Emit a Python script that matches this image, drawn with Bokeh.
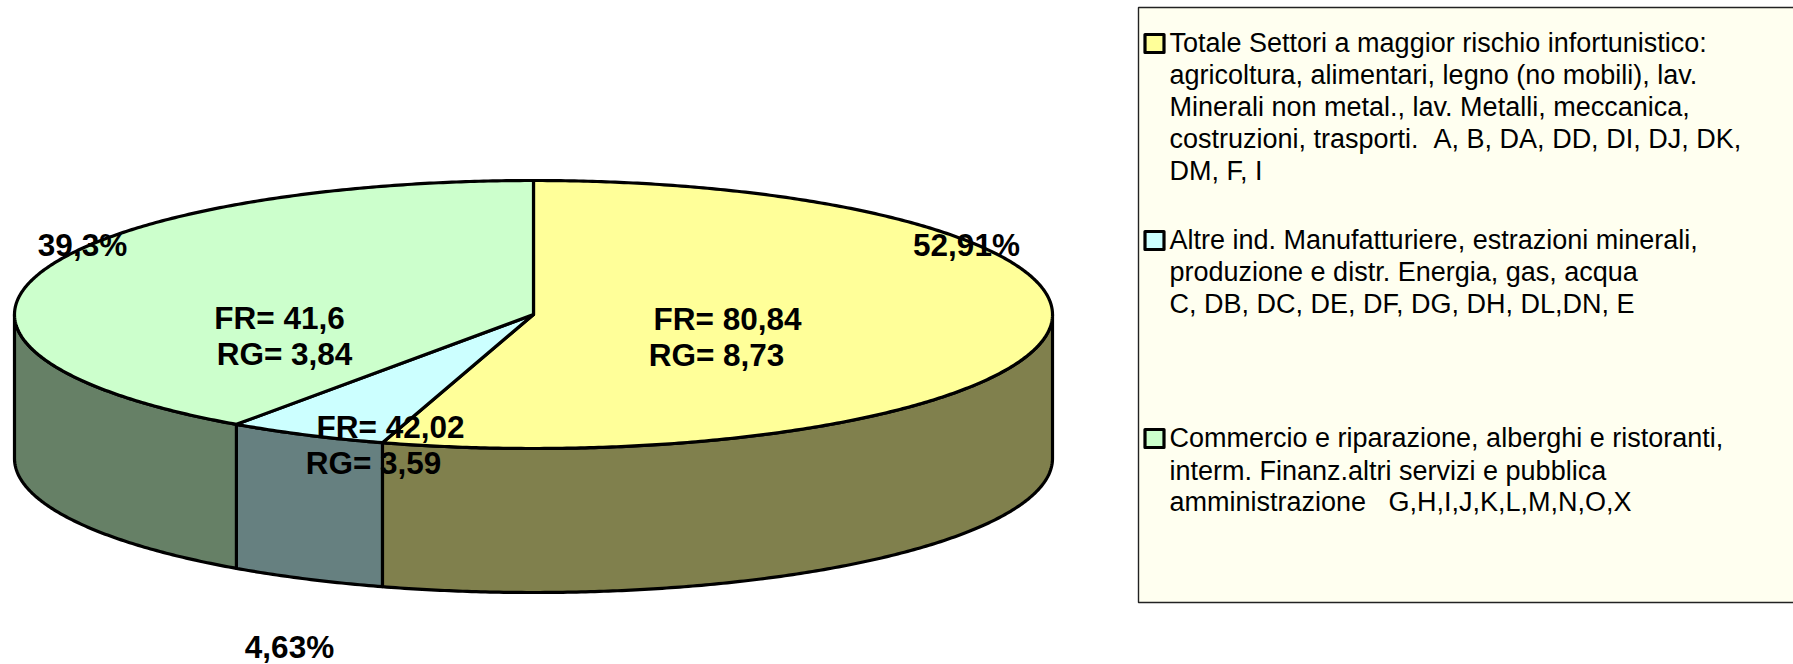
import numpy as np
from bokeh.plotting import figure
from bokeh.core.properties import value
from bokeh.embed import file_html
from bokeh.resources import INLINE

# Data
slice_shares = [54.7, 5.0, 40.3]            # drawn size of the slices, clockwise from 12 o'clock
top_colors = ["#FFFF99", "#CCFFFF", "#CCFFCC"]
side_colors = ["#80804D", "#668080", "#668066"]
pct_labels = ["52,91%", "4,63%", "39,3%"]
pct_x = [966, 289, 82]
pct_y = [244, 646, 244]
info_lines = ["FR= 80,84", "RG= 8,73", "FR= 42,02", "RG= 3,59", "FR= 41,6", "RG= 3,84"]
info_x = [727, 716, 390, 373, 279, 284]
info_y = [318, 354, 426, 462, 317, 353]
legend_lines = [
    "Totale Settori a maggior rischio infortunistico:",
    "agricoltura, alimentari, legno (no mobili), lav.",
    "Minerali non metal., lav. Metalli, meccanica,",
    "costruzioni, trasporti.\u00a0\u00a0A, B, DA, DD, DI, DJ, DK,",
    "DM, F, I",
    "Altre ind. Manufatturiere, estrazioni minerali,",
    "produzione e distr. Energia, gas, acqua",
    "C, DB, DC, DE, DF, DG, DH, DL,DN, E",
    "Commercio e riparazione, alberghi e ristoranti,",
    "interm. Finanz.altri servizi e pubblica",
    "amministrazione\u00a0\u00a0\u00a0G,H,I,J,K,L,M,N,O,X",
]
legend_line_y = [42, 74, 106, 138, 170, 239, 271, 303, 437, 470, 501]
swatch_y = [43, 240, 438]

CX, CY, RX, RY, DEPTH = 533, 314, 519, 134, 144
W, H = 1793, 664
LW = 3.2

p = figure(width=W, height=H, x_range=(0, W), y_range=(H, 0), output_backend="svg",
           toolbar_location=None, min_border=0, outline_line_color=None,
           background_fill_color="white", border_fill_color="white")
p.axis.visible = False
p.grid.visible = False
p.styles = {"position": "absolute", "left": "0px", "top": "0px"}


def arc(t0, t1, dy=0.0):
    t = np.radians(np.linspace(t0, t1, max(int(abs(t1 - t0) * 2), 2)))
    return CX + RX * np.sin(t), CY - RY * np.cos(t) + dy


edges = np.concatenate([[0], np.cumsum(slice_shares) / np.sum(slice_shares) * 360])

# side walls: only the part of each slice facing the viewer (90..270 deg)
for i, col in enumerate(side_colors):
    a, b = max(edges[i], 90), min(edges[i + 1], 270)
    if b <= a:
        continue
    xt, yt = arc(a, b)
    xb, yb = arc(b, a, DEPTH)
    p.patch(np.r_[xt, xb], np.r_[yt, yb], fill_color=col, line_color="black",
            line_width=LW, line_join="round")

# top faces
for i, col in enumerate(top_colors):
    x, y = arc(edges[i], edges[i + 1])
    p.patch(np.r_[CX, x], np.r_[CY, y], fill_color=col, line_color="black",
            line_width=LW, line_join="round")

bold = dict(text_font=value("Liberation Sans"), text_font_style="bold", text_font_size="31.5px",
            text_color="black", text_baseline="middle", text_align="center")
p.text(x=info_x, y=info_y, text=info_lines, **bold)
p.text(x=pct_x, y=pct_y, text=pct_labels, **bold)

# legend box
p.quad(left=[1138], right=[1794], top=[7], bottom=[602], fill_color="#FFFFF0",
       line_color="#222222", line_width=1.4)
p.rect(x=[1154] * 3, y=swatch_y, width=19, height=18, fill_color=top_colors,
       line_color="black", line_width=3.2, line_join="round")
p.text(x=[1169] * len(legend_lines), y=legend_line_y, text=legend_lines,
       text_font=value("Liberation Sans"), text_font_size="27px", text_color="black",
       text_baseline="middle", text_align="left")

open("out.html", "w").write(file_html(p, INLINE))
